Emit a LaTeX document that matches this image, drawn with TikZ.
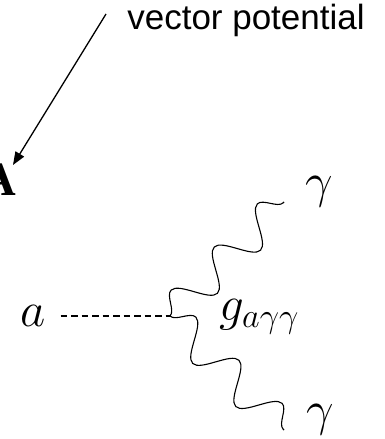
\RequirePackage{fix-cm}
\documentclass[tikz,border=0pt]{standalone}
\usepackage{fontspec}
\newfontfamily\labelfont{Liberation Sans}
\newfontfamily\fieldfont{Liberation Serif}
\usetikzlibrary{arrows.meta,decorations.pathmorphing}
\begin{document}
\begin{tikzpicture}[
    x=1pt, y=-1pt,
    mathlabel/.style={inner sep=0pt, font=\fontsize{49}{54}\selectfont},
    textlabel/.style={inner sep=0pt, font=\labelfont\fontsize{35}{40}\selectfont},
    pointer/.style={-{Triangle[length=13pt,width=10pt]}, line width=1.3pt},
    scalar/.style={line width=1.5pt, dash pattern=on 6.5pt off 4pt},
    photon/.style={line width=1.1pt, decorate,
        decoration={snake, segment length=61pt, amplitude=17.5pt}}
]
\useasboundingbox (0,0) rectangle (385,439);

% labels
\node[textlabel, anchor=base] (vp) at (246,29.5) {vector potential};
\node[inner sep=0pt, anchor=base, font=\fieldfont\bfseries\fontsize{48}{52}\selectfont] (field) at (-1,195) {A};
\node[mathlabel, anchor=base west] (axion) at (20,326.5) {$a$};
\node[mathlabel, anchor=base west] (coupling) at (219,320) {$g_{a\gamma\gamma}$};
\node[mathlabel, anchor=base] (gam1) at (319.5,197) {$\gamma$};
\node[mathlabel, anchor=base] (gam2) at (320,425) {$\gamma$};

% vertex and line ends
\coordinate (tail) at (106,14);
\coordinate (tip) at (13,165);
\coordinate (vtx) at (170,316);
\coordinate (out1) at (284,202);
\coordinate (out2) at (284,430);

\draw[pointer] (tail) -- (tip);
\draw[scalar] ([xshift=15pt]axion.east |- vtx) -- (vtx);
\draw[photon] (vtx) -- (out1);
\draw[photon] (vtx) -- (out2);
\end{tikzpicture}
\end{document}
